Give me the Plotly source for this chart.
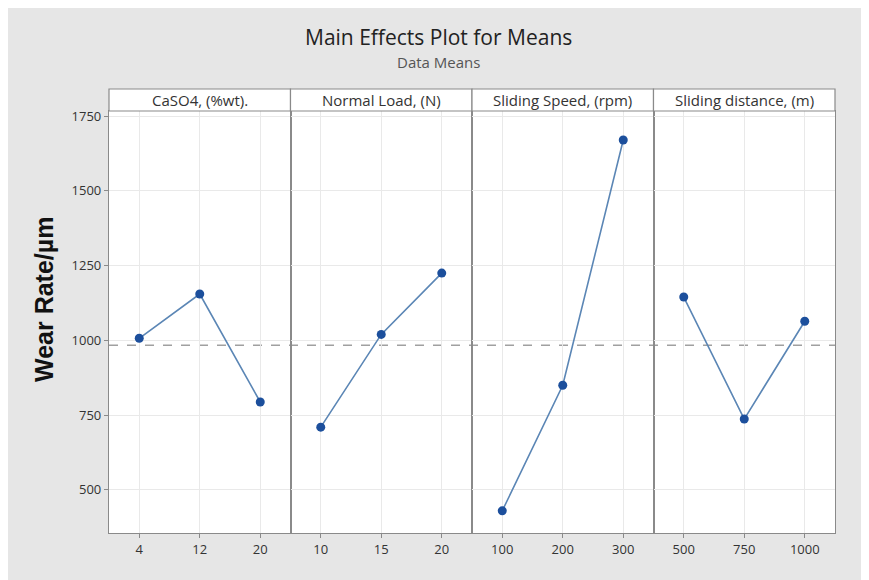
import numpy as np
import plotly.graph_objects as go
from plotly.subplots import make_subplots

factors = ["CaSO4, (%wt).", "Normal Load, (N)", "Sliding Speed, (rpm)", "Sliding distance, (m)"]
caso4_levels = ["4", "12", "20"]
load_levels = ["10", "15", "20"]
speed_levels = ["100", "200", "300"]
distance_levels = ["500", "750", "1000"]
caso4_means = [1007, 1155, 794]
load_means = [710, 1020, 1225]
speed_means = [430, 850, 1670]
distance_means = [1145, 737, 1064]
y_ticks = [500, 750, 1000, 1250, 1500, 1750]

levels = [caso4_levels, load_levels, speed_levels, distance_levels]
means = [caso4_means, load_means, speed_means, distance_means]
grand_mean = float(np.mean(np.concatenate([np.array(m) for m in means])))

W, H = 869, 580
OFF = 8  # page body margin offset
# target screen positions
sx_left, sx_right, sy_top, sy_bottom = 109, 835, 111, 533
ml = sx_left - OFF
mt = sy_top - OFF
mr = W - (sx_right - OFF)
mb = H - (sy_bottom - OFF)
ph = sy_bottom - sy_top
pw = sx_right - sx_left


def px(sx):
    return (sx - sx_left) / pw


def py(sy):
    return (sy_bottom - sy) / ph


fig = make_subplots(rows=1, cols=4, shared_yaxes=True, horizontal_spacing=0)

line_col = "#5b86b5"
mark_col = "#1c4f9c"
border = "#8a8a8a"
grid = "#e9e9e9"
ui_font = "Open Sans, Noto Sans, sans-serif"
tick_font = dict(family=ui_font, size=13, color="#333333")

for i in range(4):
    fig.add_trace(go.Scatter(
        x=levels[i], y=means[i], mode="lines+markers",
        line=dict(color=line_col, width=1.6),
        marker=dict(color=mark_col, size=9, symbol="circle"),
        showlegend=False, hoverinfo="x+y"), row=1, col=i + 1)
    fig.update_xaxes(type="category", categoryorder="array", categoryarray=levels[i],
                     range=[-0.5, 2.5], showgrid=True, gridcolor=grid, gridwidth=1,
                     showline=True, linecolor=border, linewidth=1.2, mirror=True,
                     ticks="outside", ticklen=4, tickcolor=border, tickfont=tick_font,
                     zeroline=False, fixedrange=True, row=1, col=i + 1)
    fig.update_yaxes(range=[356, 1767], tickvals=y_ticks, showgrid=True, gridcolor=grid,
                     gridwidth=1, showline=True, linecolor=border, linewidth=1.2, mirror=True,
                     zeroline=False, tickfont=tick_font,
                     ticks="outside" if i == 0 else "", ticklen=4, tickcolor=border,
                     row=1, col=i + 1)

# grand mean reference line across all panels
fig.add_shape(type="line", xref="paper", yref="y", x0=0, x1=1, y0=grand_mean, y1=grand_mean,
              line=dict(color="#a0a0a0", width=1.5, dash="dash"), layer="below")

# header strips
hdr_top = py(89)
for i in range(4):
    x0, x1 = i / 4, (i + 1) / 4
    fig.add_shape(type="rect", xref="paper", yref="paper", x0=x0, x1=x1, y0=1, y1=hdr_top,
                  fillcolor="white", line=dict(color=border, width=1.2))
    fig.add_annotation(text=factors[i], xref="paper", yref="paper", x=(x0 + x1) / 2,
                       y=(1 + hdr_top) / 2, showarrow=False, xanchor="center", yanchor="middle",
                       font=dict(family=ui_font, size=15, color="#333333"))

fig.add_annotation(text="Main Effects Plot for Means", xref="paper", yref="paper",
                   x=px(438), y=py(37), showarrow=False, xanchor="center", yanchor="middle",
                   font=dict(family=ui_font, size=21, color="#222222"))
fig.add_annotation(text="Data Means", xref="paper", yref="paper",
                   x=px(438), y=py(62), showarrow=False, xanchor="center", yanchor="middle",
                   font=dict(family=ui_font, size=15, color="#555555"))
fig.add_annotation(text="<b>Wear Rate/µm</b>", xref="paper", yref="paper",
                   x=px(44), y=py(300), showarrow=False, textangle=-90,
                   xanchor="center", yanchor="middle",
                   font=dict(family="Liberation Sans, Arial, sans-serif", size=25, color="#111111"))

fig.update_layout(width=W, height=H, margin=dict(l=ml, r=mr, t=mt, b=mb, autoexpand=False),
                  paper_bgcolor="#e6e6e6", plot_bgcolor="white")

fig.write_html("out.html")
